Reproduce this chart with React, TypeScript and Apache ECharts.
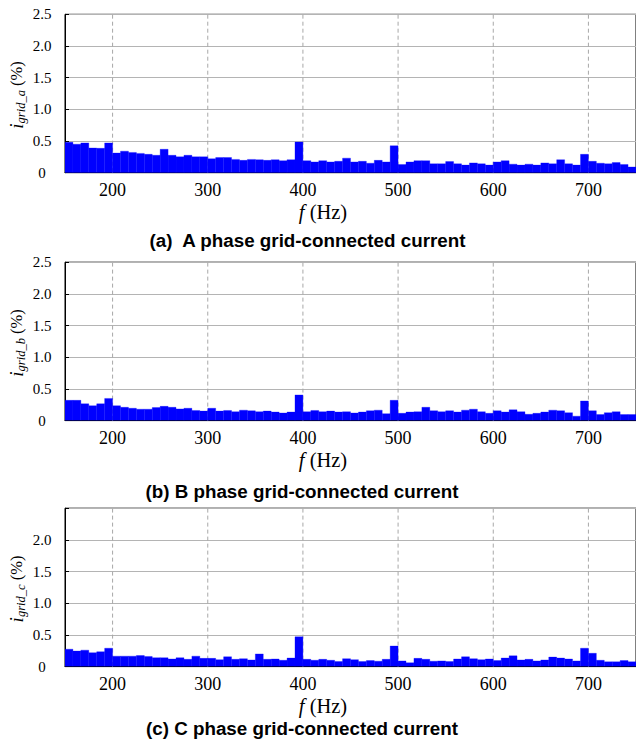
import React, { useEffect, useRef } from "react";
import * as echarts from "echarts";

// Frequency bins (Hz): each bar spans one bin starting at FREQ_START
const FREQ_START = 150;
const FREQ_END = 750;
const BIN_WIDTH = 25 / 3;

const X_TICKS = [200, 300, 400, 500, 600, 700];

// Harmonic magnitudes (%), 72 bins from 150 Hz to 750 Hz
const phaseA = [
  0.48, 0.45, 0.47, 0.39, 0.385, 0.47, 0.31, 0.34, 0.32, 0.305, 0.29, 0.275,
  0.37, 0.275, 0.25, 0.275, 0.25, 0.25, 0.22, 0.24, 0.24, 0.21, 0.195, 0.21,
  0.205, 0.195, 0.205, 0.19, 0.205, 0.485, 0.19, 0.17, 0.19, 0.17, 0.18, 0.23,
  0.17, 0.18, 0.15, 0.195, 0.17, 0.425, 0.13, 0.17, 0.19, 0.19, 0.14, 0.14,
  0.175, 0.14, 0.12, 0.155, 0.14, 0.12, 0.17, 0.19, 0.135, 0.12, 0.135, 0.12,
  0.155, 0.14, 0.205, 0.14, 0.12, 0.29, 0.18, 0.15, 0.14, 0.16, 0.13, 0.09,
];
const phaseB = [
  0.32, 0.32, 0.265, 0.235, 0.265, 0.35, 0.235, 0.21, 0.195, 0.18, 0.18, 0.205,
  0.225, 0.21, 0.185, 0.195, 0.16, 0.15, 0.195, 0.15, 0.16, 0.14, 0.165, 0.155,
  0.14, 0.15, 0.135, 0.12, 0.135, 0.405, 0.14, 0.16, 0.14, 0.15, 0.135, 0.14,
  0.12, 0.135, 0.155, 0.165, 0.11, 0.32, 0.115, 0.135, 0.14, 0.21, 0.155, 0.14,
  0.155, 0.135, 0.165, 0.18, 0.14, 0.115, 0.155, 0.135, 0.17, 0.14, 0.1, 0.115,
  0.135, 0.165, 0.155, 0.125, 0.07, 0.31, 0.155, 0.095, 0.125, 0.14, 0.095, 0.095,
];
const phaseC = [
  0.275, 0.245, 0.26, 0.22, 0.235, 0.29, 0.165, 0.165, 0.165, 0.175, 0.16, 0.14,
  0.14, 0.12, 0.14, 0.115, 0.165, 0.13, 0.13, 0.11, 0.155, 0.115, 0.125, 0.105,
  0.2, 0.115, 0.12, 0.1, 0.135, 0.47, 0.115, 0.1, 0.115, 0.1, 0.08, 0.125,
  0.11, 0.08, 0.095, 0.085, 0.115, 0.325, 0.09, 0.06, 0.13, 0.115, 0.085, 0.09,
  0.08, 0.12, 0.155, 0.125, 0.11, 0.12, 0.095, 0.135, 0.17, 0.105, 0.115, 0.09,
  0.105, 0.15, 0.135, 0.12, 0.09, 0.29, 0.21, 0.1, 0.075, 0.075, 0.095, 0.075,
];

const panels = [
  { data: phaseA, sub: "grid_a", caption: "(a)  A phase grid-connected current", showTop: true },
  { data: phaseB, sub: "grid_b", caption: "(b) B phase grid-connected current", showTop: true },
  { data: phaseC, sub: "grid_c", caption: "(c) C phase grid-connected current", showTop: false },
];

// layout (px)
const GRID_LEFT = 65;
const GRID_WIDTH = 574;
const GRID_HEIGHT = 158.4;
const GRID_TOPS = [14.3, 262.2, 508.2];
const CAPTION_Y = [240, 491, 728];
const FLABEL_Y = [212, 460, 706];
const YLABEL_Y = [95, 343, 589];

const SERIF = "Liberation Serif";
const SANS = "Liberation Sans";

function buildOption() {
  const grid: any[] = [];
  const xAxis: any[] = [];
  const yAxis: any[] = [];
  const series: any[] = [];
  const graphic: any[] = [];

  panels.forEach((p, k) => {
    grid.push({
      left: GRID_LEFT,
      top: GRID_TOPS[k],
      width: GRID_WIDTH,
      height: GRID_HEIGHT,
      show: true,
      borderColor: "#000",
      borderWidth: 1,
      backgroundColor: "#fff",
    });
    xAxis.push({
      gridIndex: k,
      type: "value",
      min: FREQ_START,
      max: FREQ_END,
      interval: 50,
      axisLine: { show: true, lineStyle: { color: "#000", width: 1 } },
      axisTick: {
        show: true,
        inside: true,
        length: 4,
        customValues: X_TICKS,
        lineStyle: { color: "#000" },
      },
      axisLabel: {
        customValues: X_TICKS,
        formatter: (v: number) =>
          v % 100 === 0 && v > FREQ_START && v < FREQ_END ? `{t|${v}}` : "",
        rich: { t: { fontFamily: SERIF, fontSize: 18, color: "#000" } },
        fontFamily: SERIF,
        fontSize: 18,
        color: "#000",
        margin: 8,
      },
      splitLine: { show: false },
    });
    yAxis.push({
      gridIndex: k,
      type: "value",
      min: 0,
      max: 2.5,
      interval: 0.5,
      axisLine: { show: true, lineStyle: { color: "#000", width: 1 } },
      axisTick: { show: true, inside: true, length: 4, lineStyle: { color: "#000" } },
      axisLabel: {
        formatter: (v: number) => {
          if (v === 0) return "{t|0}";
          if (v === 2.5 && !p.showTop) return "";
          return `{t|${v.toFixed(1)}}`;
        },
        rich: { t: { fontFamily: SERIF, fontSize: 15, color: "#000" } },
        fontFamily: SERIF,
        fontSize: 15,
        color: "#000",
        align: "center",
        margin: 23,
      },
      splitLine: { show: true, lineStyle: { color: "#b4b4b4", width: 1 } },
    });
    // vertical dashed grid lines
    series.push({
      type: "custom",
      xAxisIndex: k,
      yAxisIndex: k,
      silent: true,
      z: 1,
      data: X_TICKS.map((v) => [v, 0]),
      encode: { x: 0, y: 1 },
      renderItem: (_params: any, api: any) => {
        const a = api.coord([api.value(0), 0]);
        const b = api.coord([api.value(0), 2.5]);
        return {
          type: "line",
          shape: { x1: a[0], y1: a[1], x2: b[0], y2: b[1] },
          style: { stroke: "#a8a8a8", lineWidth: 1, lineDash: [4, 3] },
        };
      },
    });
    // spectrum bars
    series.push({
      type: "custom",
      xAxisIndex: k,
      yAxisIndex: k,
      z: 2,
      clip: true,
      data: p.data.map((v, i) => [FREQ_START + i * BIN_WIDTH, v]),
      encode: { x: 0, y: 1 },
      renderItem: (_params: any, api: any) => {
        const x0 = api.value(0);
        const v = api.value(1);
        const p0 = api.coord([x0, v]);
        const p1 = api.coord([x0 + BIN_WIDTH, 0]);
        return {
          type: "rect",
          shape: { x: p0[0], y: p0[1], width: p1[0] - p0[0], height: p1[1] - p0[1] },
          style: { fill: "#0000ff", stroke: "#0000ff", lineWidth: 0.3 },
        };
      },
    });

    // y axis title (rotated)
    graphic.push({
      type: "text",
      x: 16,
      y: YLABEL_Y[k],
      rotation: Math.PI / 2,
      style: {
        text: `{i|i}{s|${p.sub}}{p| (%)}`,
        align: "center",
        verticalAlign: "middle",
        rich: {
          i: { fontFamily: SERIF, fontStyle: "italic", fontSize: 19, lineHeight: 22, fill: "#000" },
          s: { fontFamily: SERIF, fontStyle: "italic", fontSize: 12.5, lineHeight: 12, verticalAlign: "bottom", fill: "#000" },
          p: { fontFamily: SERIF, fontSize: 16.5, lineHeight: 22, fill: "#000" },
        },
      },
    });
    // x axis title
    graphic.push({
      type: "text",
      x: 323,
      y: FLABEL_Y[k],
      style: {
        text: "{f|f}{n| (Hz)}",
        align: "center",
        verticalAlign: "middle",
        rich: {
          f: { fontFamily: SERIF, fontStyle: "italic", fontSize: 20.5, fill: "#000" },
          n: { fontFamily: SERIF, fontSize: 20.5, fill: "#000" },
        },
      },
    });
    // caption
    graphic.push({
      type: "text",
      x: k === 0 ? 307.5 : 302,
      y: CAPTION_Y[k],
      style: {
        text: p.caption,
        align: "center",
        verticalAlign: "middle",
        fontFamily: SANS,
        fontWeight: "bold",
        fontSize: 18.8,
        fill: "#000",
      },
    });
  });

  return {
    animation: false,
    backgroundColor: "#fff",
    textStyle: { fontFamily: SERIF },
    grid,
    xAxis,
    yAxis,
    series,
    graphic,
  };
}

export default function App() {
  const ref = useRef<HTMLDivElement>(null);
  useEffect(() => {
    if (!ref.current) return;
    const chart = echarts.init(ref.current, null, { renderer: "svg" });
    chart.setOption(buildOption() as any);
    return () => chart.dispose();
  }, []);
  return (
    <div
      ref={ref}
      style={{ position: "absolute", left: 0, top: 0, width: 636, height: 741, background: "#fff" }}
    />
  );
}
